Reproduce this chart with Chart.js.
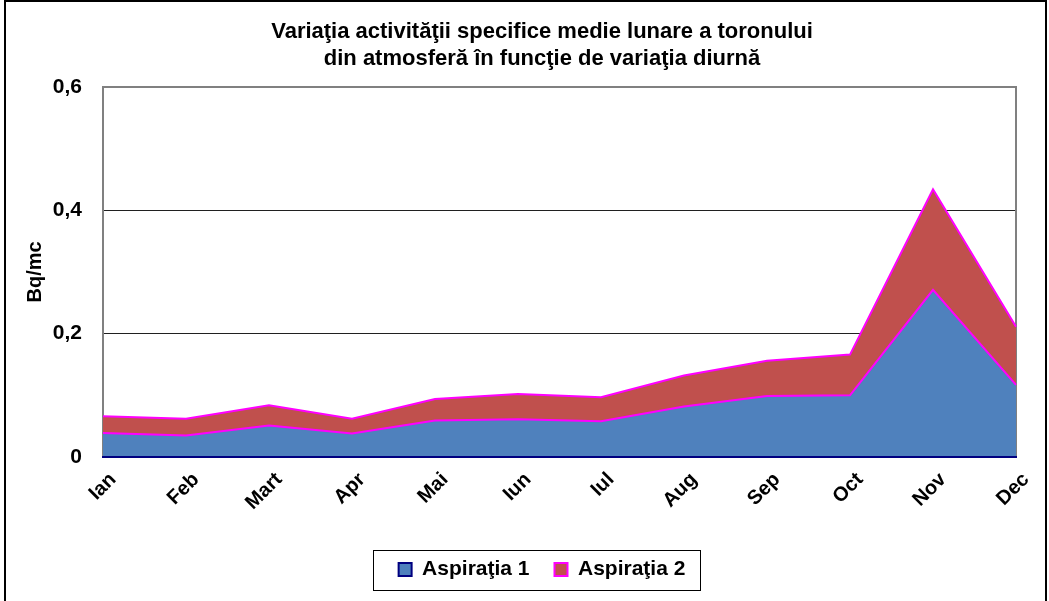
<!DOCTYPE html>
<html>
<head>
<meta charset="utf-8">
<script src="https://cdn.jsdelivr.net/npm/chart.js@4/dist/chart.umd.min.js"></script>
<style>
  body { margin: 0; background: #fff; overflow: hidden; }
  #wrap { width: 1049px; height: 601px; position: relative; }
</style>
</head>
<body>
<div id="wrap"><canvas id="radon"></canvas></div>
<script>
// data (Bq/mc)
var luni = ['Ian', 'Feb', 'Mart', 'Apr', 'Mai', 'Iun', 'Iul', 'Aug', 'Sep', 'Oct', 'Nov', 'Dec'];
var aspiratia1 = [0.039, 0.035, 0.051, 0.038, 0.059, 0.061, 0.058, 0.082, 0.099, 0.100, 0.271, 0.117];
var aspiratia2 = [0.027, 0.027, 0.033, 0.024, 0.035, 0.041, 0.039, 0.050, 0.057, 0.066, 0.163, 0.094];
var yTicks = ['0', '0,2', '0,4', '0,6'];
var titlu = ['Variaţia activităţii specifice medie lunare a toronului', 'din atmosferă în funcţie de variaţia diurnă'];

var FONT = '"Liberation Sans", Arial, sans-serif';

// frame round the whole chart + box round the legend
var extras = {
    id: 'extras',
    afterDraw: function(chart){
        var ctx = chart.ctx;
        ctx.save();
        ctx.strokeStyle = '#000';
        ctx.lineWidth = 2;
        ctx.strokeRect(5, 1, chart.width - 8, chart.height + 20);

        var hb = chart.legend.legendHitBoxes;
        if(hb && hb.length){
            var l = hb[0].left, r = hb[hb.length-1].left + hb[hb.length-1].width;
            var cy = hb[0].top + hb[0].height/2;
            ctx.lineWidth = 1;
            ctx.strokeRect(Math.round(l - 26) + 0.5, Math.round(cy - 20) + 0.5, Math.round(r - l + 40), 40);
        }
        ctx.restore();
    }
};

var ctx1 = document.getElementById('radon').getContext('2d');
var chart = new Chart(ctx1, {
    type: 'line',
    data: {
        labels: luni,
        datasets: [{
            label: 'Aspiraţia 1',
            data: aspiratia1,
            backgroundColor: '#4F81BD',
            borderColor: '#FF00FF',
            borderWidth: 2,
            fill: 'origin',
            pointRadius: 0,
            tension: 0
        }, {
            label: 'Aspiraţia 2',
            data: aspiratia2,
            backgroundColor: '#C0504D',
            borderColor: '#FF00FF',
            borderWidth: 2,
            fill: '-1',
            pointRadius: 0,
            tension: 0
        }]
    },
    options: {
        responsive: true,
        maintainAspectRatio: false,
        animation: false,
        layout: { padding: { left: 35, right: 0, top: 0, bottom: 11 } },
        plugins: {
            title: {
                display: true,
                text: titlu,
                color: '#000',
                font: { family: FONT, size: 22, weight: 'bold', lineHeight: 1.2 },
                padding: { top: 19, bottom: 15 }
            },
            legend: {
                position: 'bottom',
                labels: {
                    color: '#000',
                    font: { family: FONT, size: 21, weight: 'bold' },
                    boxWidth: 13,
                    boxHeight: 13,
                    padding: 25,
                    generateLabels: function(chart){
                        var items = Chart.defaults.plugins.legend.labels.generateLabels(chart);
                        items[0].strokeStyle = '#000080';
                        items.forEach(function(it){ it.lineWidth = 2; });
                        return items;
                    }
                }
            },
            tooltip: { enabled: false }
        },
        scales: {
            x: {
                grid: { display: false, z: 1 },
                border: { display: true, color: '#000080', width: 2, z: 1 },
                ticks: {
                    color: '#000',
                    font: { family: FONT, size: 20, weight: 'bold' },
                    minRotation: 45,
                    maxRotation: 45,
                    padding: 3,
                    labelOffset: 10
                },
                afterFit: function(s){ s.height = 77; }
            },
            y: {
                stacked: true,
                min: 0,
                max: 0.6,
                grid: {
                    drawTicks: false,
                    color: function(c){
                        if(c.tick.value === 0) return 'rgba(0,0,0,0)';
                        return c.tick.value > 0.5 ? '#808080' : '#202020';
                    },
                    lineWidth: function(c){ return c.tick.value > 0.5 ? 2 : 1; }
                },
                border: { display: true, color: '#808080', width: 2 },
                ticks: {
                    stepSize: 0.2,
                    padding: 21,
                    color: '#000',
                    font: { family: FONT, size: 21, weight: 'bold' },
                    callback: function(v, i){ return yTicks[i]; }
                },
                title: {
                    display: true,
                    text: 'Bq/mc',
                    color: '#000',
                    font: { family: FONT, size: 20, weight: 'bold' },
                    padding: { top: -12, bottom: 0 }
                },
                afterFit: function(s){ s.width = 68; }
            },
            yRight: {
                position: 'right',
                display: true,
                grid: { display: false },
                border: { display: true, color: '#808080', width: 2 },
                ticks: { display: false },
                afterFit: function(s){ s.width = 33; }
            }
        }
    },
    plugins: [extras]
});
</script>
</body>
</html>
